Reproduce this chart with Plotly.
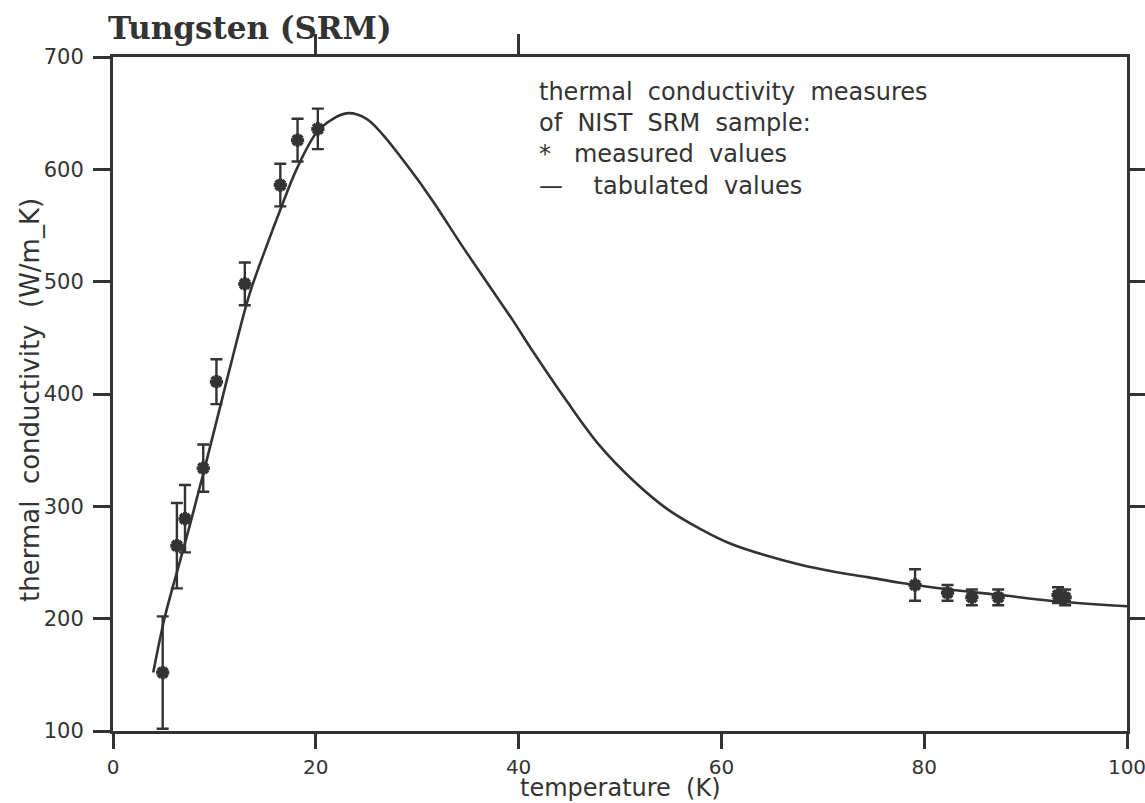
import plotly.graph_objects as go

# ---- data ----
curve_T = [3.97, 5.1, 6.6, 7.6, 8.9, 10.3, 12.2, 13.5, 15.2, 16.5, 18.1, 20.1, 21.7, 23.2,
           25.0, 26.6, 29.3, 31.6, 34.2, 36.9, 39.4, 41.4, 44.8, 48.0, 51.3, 54.6, 57.9,
           61.1, 64.5, 67.8, 71.0, 74.4, 77.6, 82.5, 87.5, 92.4, 100.0]
curve_k = [152, 201, 251, 284, 329, 379, 447, 490, 533, 564, 600, 633, 645, 650,
           645, 631, 600, 571, 535, 499, 466, 438, 393, 354, 323, 298, 280,
           266, 256, 248, 242, 237, 232, 226, 221, 216, 211]

meas_T = [4.9, 6.3, 7.1, 8.9, 10.2, 13.0, 16.5, 18.2, 20.2, 79.1, 82.3, 84.7, 87.3, 93.2, 93.9]
meas_k = [152, 265, 289, 334, 411, 498, 586, 626, 636, 230, 223, 219, 219, 221, 219]
meas_err = [50, 38, 30, 21, 20, 19, 19, 19, 18, 14, 7, 7, 7, 7, 7]

x_ticks = [0, 20, 40, 60, 80, 100]
y_ticks = [100, 200, 300, 400, 500, 600, 700]
top_ticks = [20, 40]
right_ticks = [200, 300, 400, 500, 600]

title_text = "Tungsten (SRM)"
legend_lines = ["thermal conductivity measures", "of NIST SRM sample:",
                "* measured values", "\u2014 tabulated values"]
x_title = "temperature (K)"
y_title = "thermal conductivity (W/m_K)"

INK = "#333333"
FONT = "DejaVu Sans"
SP = "\u00a0\u00a0"  # wide word spacing like the original lettering

fig = go.Figure()
fig.add_trace(go.Scatter(x=curve_T, y=curve_k, mode="lines",
                         line=dict(color=INK, width=2.6, shape="spline", smoothing=1.0),
                         showlegend=False, hoverinfo="skip"))
fig.add_trace(go.Scatter(x=meas_T, y=meas_k, mode="markers",
                         marker=dict(symbol="asterisk", size=11, color=INK,
                                     line=dict(color=INK, width=4)),
                         error_y=dict(type="data", array=meas_err, visible=True,
                                      color=INK, thickness=2.4, width=6),
                         showlegend=False))
# invisible trace on the secondary axes so they render
fig.add_trace(go.Scatter(x=[50], y=[400], xaxis="x2", yaxis="y2", mode="markers",
                         marker=dict(opacity=0), showlegend=False, hoverinfo="skip"))

axis_common = dict(showgrid=False, zeroline=False, showline=True, linecolor=INK,
                   linewidth=3, ticks="outside", tickcolor=INK, tickwidth=2.5,
                   automargin=False, ticklabeloverflow="allow")

fig.update_layout(
    width=1145, height=803,
    margin=dict(l=113, r=18, t=57, b=72),
    paper_bgcolor="white", plot_bgcolor="white",
    xaxis=dict(range=[0, 100], tickvals=x_ticks, ticklabelstandoff=1, ticklen=15,
               tickfont=dict(family=FONT, size=20, color=INK), **axis_common),
    yaxis=dict(range=[100, 700], tickvals=y_ticks, ticklabelstandoff=5, ticklen=17,
               tickfont=dict(family=FONT, size=21, color=INK), **axis_common),
    xaxis2=dict(range=[0, 100], overlaying="x", side="top", tickvals=top_ticks,
                showticklabels=False, showgrid=False, zeroline=False, showline=True,
                linecolor=INK, linewidth=3, ticks="outside", tickcolor=INK,
                tickwidth=2.5, ticklen=20, automargin=False),
    yaxis2=dict(range=[100, 700], overlaying="y", side="right", tickvals=right_ticks,
                showticklabels=False, showgrid=False, zeroline=False, showline=True,
                linecolor=INK, linewidth=3, ticks="outside", tickcolor=INK,
                tickwidth=2.5, ticklen=18, automargin=False),
)

def py2paper(py):
    return 1 - (py - 57) / 674.0

def px2paper(px):
    return (px - 113) / 1014.0

legend_fmt = [legend_lines[0].replace(" ", SP),
              legend_lines[1].replace(" ", SP),
              legend_lines[2].replace(" ", SP + "\u00a0", 1).replace(" ", SP),
              legend_lines[3].replace(" ", SP + SP, 1).replace(" ", SP)]
legend_text = "<br>".join(legend_fmt)

annotations = [
    dict(text=f"<b>{title_text}</b>", x=px2paper(106), y=py2paper(28), xref="paper",
         yref="paper", xanchor="left", yanchor="middle", showarrow=False,
         font=dict(family="DejaVu Serif", size=31, color=INK)),
    dict(text=x_title.replace(" ", SP), x=0.5, y=py2paper(788), xref="paper", yref="paper",
         xanchor="center", yanchor="middle", showarrow=False, borderpad=0,
         font=dict(family=FONT, size=24, color=INK)),
    dict(text=y_title.replace(" ", SP), x=px2paper(30), y=py2paper(400), xref="paper",
         yref="paper", xanchor="center", yanchor="middle", textangle=-90, showarrow=False,
         font=dict(family=FONT, size=26, color=INK)),
    dict(text=legend_text, x=px2paper(538), y=py2paper(139), xref="paper", yref="paper",
         xanchor="left", yanchor="middle", align="left", showarrow=False, borderpad=0,
         font=dict(family=FONT, size=24, color=INK)),
]
fig.update_layout(annotations=annotations)

fig.write_html("out.html")
